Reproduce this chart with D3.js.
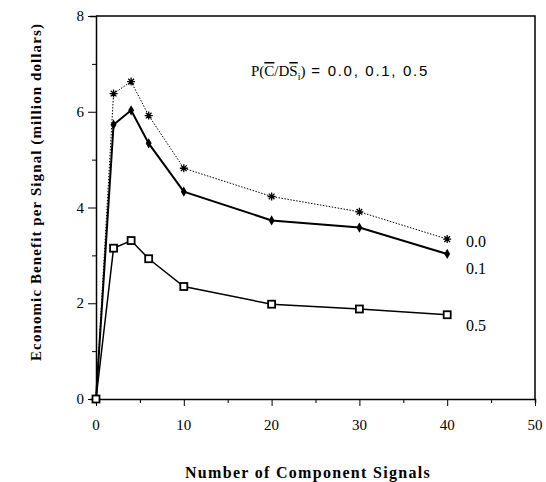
<!DOCTYPE html>
<html>
<head>
<meta charset="utf-8">
<script src="https://cdn.jsdelivr.net/npm/d3@7"></script>
<style>
  body { margin: 0; background: #fff; }
  text { font-family: "Liberation Serif", "DejaVu Serif", serif; }
</style>
</head>
<body>
<script>
// данные
const signals = [0, 2, 4, 6, 10, 20, 30, 40];
const p00 = [0, 6.38, 6.63, 5.92, 4.82, 4.23, 3.91, 3.34];
const p01 = [0, 5.73, 6.03, 5.34, 4.33, 3.73, 3.58, 3.03];
const p05 = [0, 3.15, 3.31, 2.93, 2.35, 1.98, 1.88, 1.76];
const seriesNames = ["0.0", "0.1", "0.5"];
const xTicks = [0, 10, 20, 30, 40, 50];
const yTicks = [0, 2, 4, 6, 8];

const W = 546, H = 482;
const mLeft = 96, mRight = 535, mTop = 16, mBottom = 399;

const svg = d3.select("body").append("svg")
    .attr("width", W)
    .attr("height", H);

const x = d3.scaleLinear().domain([0, 50]).range([mLeft, mRight]);
const y = d3.scaleLinear().domain([0, 8]).range([mBottom, mTop]);

// рамка сверху и справа
svg.append("path")
    .attr("d", `M${mLeft},${mTop}H${mRight}V${mBottom}`)
    .attr("fill", "none")
    .attr("stroke", "#000")
    .attr("stroke-width", 1.5);

// оси
const xAxis = svg.append("g").attr("transform", `translate(0,${mBottom})`)
    .call(d3.axisBottom(x).tickValues(d3.range(0, 51, 5)).tickSize(4).tickFormat(""));
xAxis.selectAll(".tick line")
    .attr("y2", function (d) { return d % 10 === 0 ? 7 : 4; });
xAxis.selectAll("path").attr("stroke-width", 1.5);

const yAxis = svg.append("g").attr("transform", `translate(${mLeft},0)`)
    .call(d3.axisLeft(y).tickValues(d3.range(0, 9, 1)).tickSize(6).tickFormat(""));
yAxis.selectAll(".tick line")
    .attr("x2", function (d) { return d % 2 === 0 ? -8 : -4; });
yAxis.selectAll("path").attr("stroke-width", 1.5);

svg.selectAll(".xlab")
    .data(xTicks)
    .enter()
    .append("text")
    .attr("x", function (d) { return x(d); })
    .attr("y", mBottom + 31)
    .attr("text-anchor", "middle")
    .attr("font-size", "15px")
    .text(function (d) { return d; });

svg.selectAll(".ylab")
    .data(yTicks)
    .enter()
    .append("text")
    .attr("x", mLeft - 12)
    .attr("y", function (d) { return y(d) + 5; })
    .attr("text-anchor", "end")
    .attr("font-size", "15px")
    .text(function (d) { return d; });

// подписи осей
svg.append("text")
    .attr("x", 308)
    .attr("y", 478)
    .attr("text-anchor", "middle")
    .attr("font-size", "16px")
    .attr("font-weight", "bold")
    .attr("letter-spacing", "1.3px")
    .text("Number of Component Signals");

svg.append("text")
    .attr("transform", "translate(41,192) rotate(-90)")
    .attr("text-anchor", "middle")
    .attr("font-size", "15px")
    .attr("font-weight", "bold")
    .attr("letter-spacing", "1.1px")
    .text("Economic Benefit per Signal (million dollars)");

// линии
const line = d3.line()
    .x(function (d) { return x(d[0]); })
    .y(function (d) { return y(d[1]); });

const series = [p00, p01, p05].map(function (vals) {
    return signals.map(function (s, i) { return [s, vals[i]]; });
});

svg.append("path").datum(series[0])
    .attr("d", line).attr("fill", "none")
    .attr("stroke", "#000").attr("stroke-width", 1)
    .attr("stroke-dasharray", "1.5,1.5");
svg.append("path").datum(series[1])
    .attr("d", line).attr("fill", "none")
    .attr("stroke", "#000").attr("stroke-width", 2);
svg.append("path").datum(series[2])
    .attr("d", line).attr("fill", "none")
    .attr("stroke", "#000").attr("stroke-width", 1.5);

// маркеры: звёздочка с 8 лучами
const starPath = d3.range(4).map(function (k) {
    const a = k * Math.PI / 4, r = 4;
    return `M${(-r * Math.cos(a)).toFixed(2)},${(-r * Math.sin(a)).toFixed(2)}L${(r * Math.cos(a)).toFixed(2)},${(r * Math.sin(a)).toFixed(2)}`;
}).join("");
svg.selectAll(".star")
    .data(series[0])
    .enter()
    .append("path")
    .attr("transform", function (d) { return `translate(${x(d[0])},${y(d[1])})`; })
    .attr("d", starPath)
    .attr("fill", "none")
    .attr("stroke", "#000")
    .attr("stroke-width", 1.3);

svg.selectAll(".diam")
    .data(series[1])
    .enter()
    .append("path")
    .attr("transform", function (d) { return `translate(${x(d[0])},${y(d[1])})`; })
    .attr("d", d3.symbol().type(d3.symbolDiamond).size(30))
    .attr("fill", "#000");

svg.selectAll(".sq")
    .data(series[2])
    .enter()
    .append("rect")
    .attr("x", function (d) { return x(d[0]) - 3.5; })
    .attr("y", function (d) { return y(d[1]) - 3.5; })
    .attr("width", 7)
    .attr("height", 7)
    .attr("fill", "#fff")
    .attr("stroke", "#000")
    .attr("stroke-width", 1.8);

// подписи серий справа
const lastIdx = signals.length - 1;
const labelY = [p00[lastIdx] - 0.06, p01[lastIdx] - 0.31, p05[lastIdx] - 0.23];
svg.selectAll(".slab")
    .data(seriesNames)
    .enter()
    .append("text")
    .attr("x", 466)
    .attr("y", function (d, i) { return y(labelY[i]) + 5; })
    .attr("font-size", "16px")
    .text(function (d) { return d; });

// легенда
const leg = svg.append("text")
    .attr("x", 251)
    .attr("y", 76)
    .attr("font-size", "15px");
leg.append("tspan").text("P(");
leg.append("tspan").attr("text-decoration", "overline").text("C");
leg.append("tspan").text("/D");
leg.append("tspan").attr("text-decoration", "overline").text("S");
leg.append("tspan").attr("font-size", "10px").attr("dy", 4).text("i");
leg.append("tspan").attr("dy", -4).text(")");
leg.append("tspan")
    .style("font-family", "'Liberation Sans', sans-serif")
    .attr("font-size", "15px")
    .attr("letter-spacing", "1.7px")
    .text(" = 0.0, 0.1, 0.5");
</script>
</body>
</html>
